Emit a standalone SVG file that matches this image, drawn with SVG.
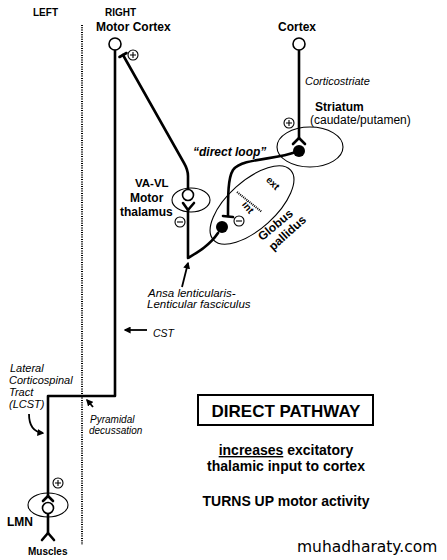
<svg xmlns="http://www.w3.org/2000/svg" width="447" height="560" viewBox="0 0 447 560">
<defs>
<style>
text{font-family:"Liberation Sans",Arial,sans-serif;fill:#000}
.b{font-weight:bold}
.i{font-style:italic}
.axon{fill:none;stroke:#000;stroke-width:2.6;stroke-linecap:round;stroke-linejoin:round}
.thin{fill:none;stroke:#000;stroke-width:1.1}
.cell{fill:#fff;stroke:#000;stroke-width:1.6}
.dot{fill:#000}
.sign{fill:#fff;stroke:#000;stroke-width:1.1}
.arr{fill:none;stroke:#000;stroke-width:1.8}
</style>
<marker id="ah" viewBox="0 0 10 10" refX="8" refY="5" markerWidth="7" markerHeight="7" markerUnits="userSpaceOnUse" orient="auto">
<path d="M0,0 L10,5 L0,10 z" fill="#000"/>
</marker>
</defs>
<rect width="447" height="560" fill="#fff"/>

<!-- midline -->
<line x1="82" y1="25" x2="82" y2="545" stroke="#000" stroke-width="2" stroke-dasharray="1 1.3"/>
<text class="b" x="33" y="16" font-size="10">LEFT</text>
<text class="b" x="105" y="16" font-size="10">RIGHT</text>

<g id="connectors">
<!-- CST -->
<path class="axon" d="M115,50 L115,396 L48,396 L48,496"/>
<path class="axon" d="M43,501 L48,496 L53,501" stroke-width="2"/>
<!-- corticostriate -->
<path class="axon" d="M299,50 L299,138"/>
<path class="axon" d="M293,144 L299,138 L305,144" stroke-width="2"/>
<!-- striatum to GPi -->
<path class="axon" d="M296,152 C275,160 242,158 233,170 C228,178 228,195 228,216"/>
<path class="axon" d="M223,216 L233,217" stroke-width="2"/>
<!-- GPi to thalamus -->
<path class="axon" d="M218,233 C210,245 198,252 188,258 L188,210"/>
<path class="axon" d="M183,203 L188,210 L194,203" stroke-width="2"/>
<!-- thalamus to motor cortex -->
<path class="axon" d="M188,189 L188,176 Q188,170 184,163 L123,55"/>
<path class="axon" d="M119.5,57 L126.5,53" stroke-width="2"/>
<!-- LMN to muscles -->
<path class="axon" d="M48,514 L48,533"/>
<path class="axon" d="M42,540 L48,533 L54,540" stroke-width="2"/>
<!-- label arrows -->
<line class="arr" x1="182" y1="287" x2="188" y2="263" marker-end="url(#ah)"/>
<line class="arr" x1="147" y1="330" x2="125" y2="330" marker-end="url(#ah)"/>
<path class="arr" d="M29,414 C29,425 33,432 43,433" marker-end="url(#ah)"/>
<line class="arr" x1="93" y1="407" x2="87" y2="400" marker-end="url(#ah)"/>
</g>

<g id="motor-cortex">
<text class="b" x="96" y="31" font-size="12">Motor Cortex</text>
<circle class="cell" cx="115" cy="44" r="6"/>
<circle class="sign" cx="133" cy="55" r="5"/>
<path d="M130,55 H136 M133,52 V58" stroke="#000" stroke-width="1.1"/>
</g>

<g id="cortex">
<text class="b" x="278" y="31" font-size="12">Cortex</text>
<circle class="cell" cx="299" cy="44" r="6"/>
<text class="i" x="305" y="85" font-size="11">Corticostriate</text>
</g>

<g id="striatum">
<ellipse class="thin" cx="310" cy="147" rx="33" ry="20"/>
<circle class="dot" cx="299" cy="151" r="6"/>
<text class="b" x="315" y="111" font-size="12">Striatum</text>
<text x="310" y="124" font-size="12">(caudate/putamen)</text>
<circle class="sign" cx="289" cy="123" r="5"/>
<path d="M286,123 H292 M289,120 V126" stroke="#000" stroke-width="1.1"/>
<text class="b i" x="193" y="156" font-size="12">“direct loop”</text>
</g>

<g id="thalamus">
<ellipse class="thin" cx="191" cy="200" rx="19" ry="12"/>
<circle class="cell" cx="188" cy="195" r="5.5"/>
<text class="b" x="135" y="187" font-size="11.5">VA-VL</text>
<text class="b" x="130" y="202" font-size="12">Motor</text>
<text class="b" x="120" y="216" font-size="12">thalamus</text>
<circle class="sign" cx="180" cy="222" r="5"/>
<path d="M177,222 H183" stroke="#000" stroke-width="1.1"/>
</g>

<g id="globus-pallidus">
<ellipse class="thin" cx="252" cy="205" rx="52" ry="24" transform="rotate(-42 252 205)"/>
<line x1="237" y1="192" x2="262" y2="212" stroke="#000" stroke-width="2" stroke-dasharray="1 1"/>
<text class="b" font-size="10" text-anchor="middle" transform="translate(270.5 185.5) rotate(45)">ext</text>
<text class="b" font-size="10" text-anchor="middle" transform="translate(245.5 209.5) rotate(50)">int</text>
<circle class="dot" cx="222" cy="227" r="6"/>
<circle class="sign" cx="239" cy="221" r="5"/>
<path d="M236,221 H242" stroke="#000" stroke-width="1.1"/>
<text class="b" font-size="12" text-anchor="middle" transform="translate(278 228) rotate(-40)">Globus</text>
<text class="b" font-size="12" text-anchor="middle" transform="translate(290 236) rotate(-42)">pallidus</text>
</g>

<g id="labels">
<text class="i" x="148" y="297" font-size="11.5">Ansa lenticularis-</text>
<text class="i" x="147" y="308" font-size="11.5">Lenticular fasciculus</text>
<text class="i" x="153" y="337" font-size="10.5">CST</text>
<text class="i" x="10" y="372" font-size="11">Lateral</text>
<text class="i" x="9" y="384" font-size="11">Corticospinal</text>
<text class="i" x="9" y="396" font-size="11">Tract</text>
<text class="i" x="9" y="408" font-size="11">(LCST)</text>
<text class="i" x="90" y="423" font-size="10">Pyramidal</text>
<text class="i" x="89" y="434" font-size="10">decussation</text>
</g>

<g id="lmn">
<ellipse class="thin" cx="48" cy="505" rx="20" ry="12"/>
<circle class="cell" cx="48" cy="508" r="5.5"/>
<circle class="sign" cx="58" cy="483" r="5"/>
<path d="M55,483 H61 M58,480 V486" stroke="#000" stroke-width="1.1"/>
<text class="b" x="7" y="526" font-size="12">LMN</text>
<text class="b" x="28" y="555" font-size="10">Muscles</text>
</g>

<g id="direct-pathway">
<rect x="198" y="395" width="175" height="30" fill="#fff" stroke="#000" stroke-width="2"/>
<text class="b" x="286" y="417" font-size="17" text-anchor="middle">DIRECT PATHWAY</text>
<text class="b" x="286" y="455" font-size="14" text-anchor="middle"><tspan text-decoration="underline">increases</tspan> excitatory</text>
<text class="b" x="286" y="471" font-size="14" text-anchor="middle">thalamic input to cortex</text>
<text class="b" x="286" y="506" font-size="14" text-anchor="middle">TURNS UP motor activity</text>
</g>

<text x="297" y="552" font-size="15.5" style="font-family:'DejaVu Sans',sans-serif" fill="#222">muhadharaty.com</text>
</svg>
